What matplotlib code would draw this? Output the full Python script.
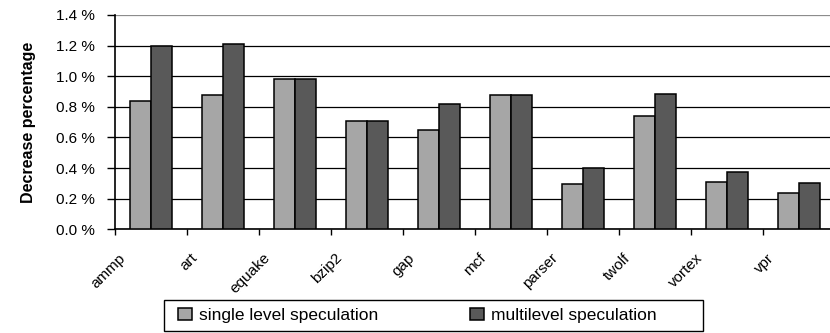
import numpy as np
import matplotlib.pyplot as plt
from matplotlib.patches import Rectangle
from matplotlib.transforms import ScaledTranslation

plt.rcParams['font.family'] = ['Liberation Sans', 'DejaVu Sans']

benchmarks = ["ammp", "art", "equake", "bzip2", "gap", "mcf", "parser", "twolf", "vortex", "vpr"]
single_level = [0.84, 0.88, 0.98, 0.71, 0.65, 0.88, 0.295, 0.74, 0.31, 0.235]
multi_level = [1.20, 1.21, 0.98, 0.71, 0.82, 0.88, 0.40, 0.885, 0.375, 0.30]
y_ticks = [0.0, 0.2, 0.4, 0.6, 0.8, 1.0, 1.2, 1.4]
y_ticklabels = ["0.0 %", "0.2 %", "0.4 %", "0.6 %", "0.8 %", "1.0 %", "1.2 %", "1.4 %"]
series_names = ["single level speculation", "multilevel speculation"]

light = "#a6a6a6"
dark = "#595959"

fig = plt.figure(figsize=(8.3, 3.33), dpi=100)
ax = fig.add_axes([114.5 / 830, 103.7 / 333, 720.8 / 830, 214.3 / 333])

x = np.arange(len(benchmarks))
w = 0.291
b1 = ax.bar(x - w / 2, single_level, w, color=light, edgecolor="black", linewidth=1.1, zorder=3,
            label=series_names[0])
b2 = ax.bar(x + w / 2, multi_level, w, color=dark, edgecolor="black", linewidth=1.1, zorder=3,
            label=series_names[1])

ax.set_xlim(-0.5, len(benchmarks) - 0.5)
ax.set_ylim(0, 1.4)

# y axis
ax.set_yticks(y_ticks)
ax.set_yticklabels(y_ticklabels, fontsize=11)
ax.tick_params(axis="y", direction="out", length=6, width=1, pad=8)
ax.grid(axis="y", color="black", linewidth=0.9, zorder=0)
ax.yaxis.get_gridlines()[-1].set_color("#8c8c8c")

# x axis: tick marks between categories, labels at centres
ax.set_xticks(np.arange(len(benchmarks)) - 0.5)
ax.set_xticklabels([])
ax.tick_params(axis="x", which="major", direction="out", length=4.5, width=1)
ax.set_xticks(x, minor=True)
ax.set_xticklabels(benchmarks, minor=True, rotation=45, ha="right", va="top", fontsize=11)
ax.tick_params(axis="x", which="minor", length=0, pad=15.5)
shift = ScaledTranslation(-0.22, 0, fig.dpi_scale_trans)
for lbl in ax.get_xticklabels(minor=True):
    lbl.set_transform(lbl.get_transform() + shift)

for s in ["top", "right"]:
    ax.spines[s].set_visible(False)
ax.spines["left"].set_linewidth(1.2)
ax.spines["bottom"].set_linewidth(1.2)

ax.set_ylabel("Decrease percentage", fontsize=11.5, fontweight="bold")
ax.yaxis.set_label_coords(-0.109, 0.5)

# legend box
fig.patches.append(Rectangle((164 / 830, 2.5 / 333), 539 / 830, 30.5 / 333, transform=fig.transFigure,
                             fill=False, edgecolor="black", linewidth=1.0))
fig.legend(handles=[b1, b2], loc="center left", ncol=2,
           bbox_to_anchor=(178 / 830, 17.5 / 333),
           fontsize=12.5, frameon=False,
           handlelength=0.81, handleheight=0.69, handletextpad=0.4,
           columnspacing=5.3, borderpad=0, borderaxespad=0)

plt.savefig("out.png", dpi=100)
